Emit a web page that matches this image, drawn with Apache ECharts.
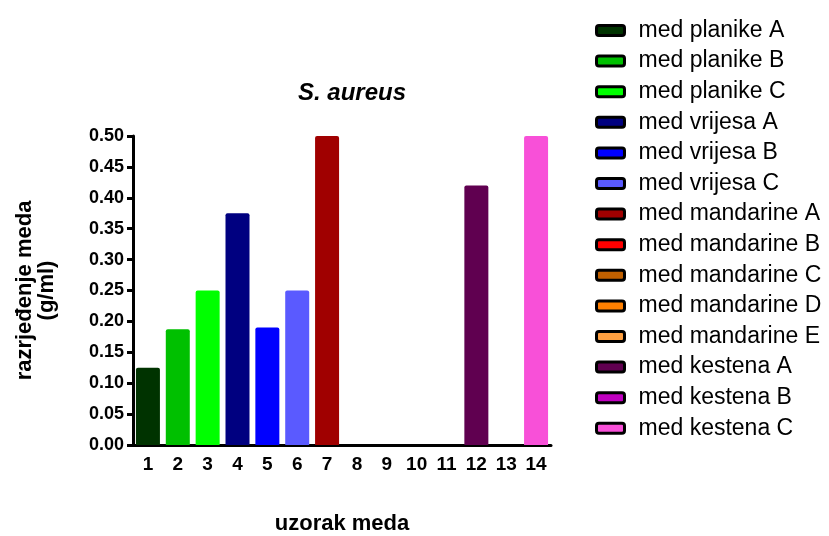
<!DOCTYPE html>
<html>
<head>
<meta charset="utf-8">
<script src="https://cdn.jsdelivr.net/npm/echarts@6/dist/echarts.min.js"></script>
<style>
html,body{margin:0;padding:0;background:#fff;}
#c{width:829px;height:536px;}
</style>
</head>
<body>
<div id="c"></div>
<script>
const categories = ['1','2','3','4','5','6','7','8','9','10','11','12','13','14'];
const seriesNames = ['med planike A','med planike B','med planike C','med vrijesa A','med vrijesa B','med vrijesa C','med mandarine A','med mandarine B','med mandarine C','med mandarine D','med mandarine E','med kestena A','med kestena B','med kestena C'];
const values = [0.125, 0.1875, 0.25, 0.375, 0.19, 0.25, 0.5, 0, 0, 0, 0, 0.42, 0, 0.5];
const colors = ['#003300','#00C000','#00FF00','#000080','#0000FF','#5A5AFF','#A00000','#FF0000','#C06000','#FF8000','#FFA040','#600050','#C000C0','#F850D8'];
const yTicks = ['0.00','0.05','0.10','0.15','0.20','0.25','0.30','0.35','0.40','0.45','0.50'];

const font = 'Liberation Sans, Arial, sans-serif';
const series = seriesNames.map((name, i) => ({
  name: name,
  type: 'bar',
  barWidth: 24,
  barGap: '-100%',
  itemStyle: { color: colors[i], borderRadius: [2,2,0,0] },
  data: categories.map((c, j) => j === i ? values[i] : '-')
}));

const chart = echarts.init(document.getElementById('c'), null, {renderer: 'canvas'});
chart.setOption({
  animation: false,
  backgroundColor: '#fff',
  title: {
    text: 'S. aureus',
    left: 347, top: 76, textAlign: 'center',
    textStyle: { fontFamily: font, fontSize: 24, fontWeight: 'bold', fontStyle: 'italic', color: '#000' }
  },
  legend: {
    orient: 'vertical',
    left: 590, top: 14,
    icon: 'roundRect',
    itemWidth: 28, itemHeight: 10,
    itemGap: 7.6,
    itemStyle: { borderColor: '#000', borderWidth: 3 },
    textStyle: { fontFamily: font, fontSize: 23, color: '#000', lineHeight: 20, padding: [0,0,0,9] },
    data: seriesNames
  },
  grid: { left: 133, right: 278, top: 136, bottom: 536 - 445, outerBoundsMode: 'none', containLabel: false },
  xAxis: {
    type: 'category',
    data: categories,
    name: 'uzorak meda',
    nameLocation: 'middle',
    nameGap: 68,
    nameTextStyle: { fontFamily: font, fontSize: 22, fontWeight: 'bold', color: '#000' },
    axisLine: { lineStyle: { color: '#000', width: 3 } },
    axisTick: { alignWithLabel: true, length: 6, lineStyle: { color: '#000', width: 3 } },
    axisLabel: { fontFamily: font, fontSize: 19, fontWeight: 'bold', color: '#000', margin: 10, interval: 0 }
  },
  yAxis: {
    type: 'value',
    min: 0, max: 0.5, interval: 0.05,
    name: 'razrjeđenje meda\n(g/ml)',
    nameLocation: 'middle',
    nameGap: 75,
    nameTextStyle: { fontFamily: font, fontSize: 22, fontWeight: 'bold', color: '#000', lineHeight: 22 },
    axisLine: { show: true, lineStyle: { color: '#000', width: 3 } },
    axisTick: { show: true, length: 6, lineStyle: { color: '#000', width: 3 } },
    splitLine: { show: false },
    axisLabel: {
      fontFamily: font, fontSize: 18, fontWeight: 'bold', color: '#000', margin: 9,
      formatter: (v) => yTicks[Math.round(v / 0.05)]
    }
  },
  series: series
});
</script>
</body>
</html>
